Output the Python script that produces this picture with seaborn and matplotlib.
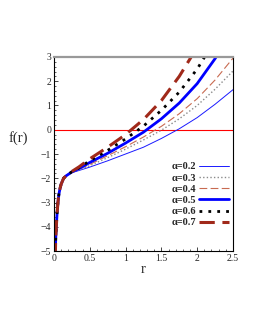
import numpy as np
import pandas as pd
import seaborn as sns
import matplotlib.pyplot as plt
from matplotlib.ticker import MultipleLocator

# --- data ---
r_near = [0.018, 0.025, 0.033, 0.045, 0.056, 0.07, 0.085, 0.1, 0.135, 0.17, 0.2]
f_near = [-5.3, -4.5, -4.0, -3.4, -3.0, -2.65, -2.42, -2.25, -2.0, -1.9, -1.84]

r_far = [0.25, 0.35, 0.5, 0.75, 1.0, 1.25, 1.5, 1.75, 2.0, 2.25, 2.5]
f_a02 = [-1.77, -1.68, -1.54, -1.28, -1.00, -0.72, -0.36, 0.04, 0.50, 1.05, 1.65]
f_a03 = [-1.76, -1.65, -1.48, -1.15, -0.80, -0.42, -0.02, 0.45, 1.00, 1.67, 2.42]
f_a04 = [-1.75, -1.62, -1.43, -1.07, -0.70, -0.30, 0.14, 0.66, 1.28, 2.05, 2.95]
f_a05 = [-1.74, -1.60, -1.35, -0.97, -0.55, -0.10, 0.45, 1.10, 1.90, 2.93, 4.10]
f_a06 = [-1.73, -1.57, -1.28, -0.85, -0.38, 0.15, 0.80, 1.55, 2.50, 3.70, 5.00]
f_a07 = [-1.72, -1.53, -1.20, -0.72, -0.20, 0.42, 1.20, 2.20, 3.40, 4.80, 6.40]

alphas = ['0.2', '0.3', '0.4', '0.5', '0.6', '0.7']
series = [f_a02, f_a03, f_a04, f_a05, f_a06, f_a07]

styles = {
    '0.2': dict(color='#1a1aff', lw=0.7, ls='-'),
    '0.3': dict(color='#8a8a8a', lw=1.0, ls=(0, (1, 1.6))),
    '0.4': dict(color='#c86a50', lw=0.8, ls=(0, (7, 3))),
    '0.5': dict(color='#0000ff', lw=2.0, ls='-'),
    '0.6': dict(color='black', lw=2.0, ls=(0, (1, 2.2))),
    '0.7': dict(color='#a0291a', lw=2.2, ls=(0, (5, 2.5))),
}

sns.set_style('ticks')
plt.rcParams['font.family'] = ['Liberation Serif', 'DejaVu Serif']

fig = plt.figure(figsize=(2.58, 3.33), dpi=100)
ax = fig.add_axes([0.209, 0.246, 0.694, 0.583])

ax.axhline(0, color='red', lw=0.8, zorder=1)

for a, f in zip(alphas, series):
    df = pd.DataFrame({'r': r_near + r_far, 'f': f_near + f})
    st = styles[a]
    sns.lineplot(data=df, x='r', y='f', ax=ax, sort=False, estimator=None,
                 color=st['color'], linewidth=st['lw'], linestyle=st['ls'],
                 label='\u03b1=' + a)

ax.set_xlim(0, 2.5)
ax.set_ylim(-5, 3)
ax.xaxis.set_major_locator(MultipleLocator(0.5))
ax.xaxis.set_minor_locator(MultipleLocator(0.1))
ax.yaxis.set_major_locator(MultipleLocator(1))
ax.yaxis.set_minor_locator(MultipleLocator(0.2))
ax.xaxis.set_major_formatter(plt.FuncFormatter(lambda v, p: '0' if v == 0 else ('%g' % v)))
ax.yaxis.set_major_formatter(plt.FuncFormatter(lambda v, p: ('\u2212%g' % -v) if v < 0 else '%g' % v))
ax.tick_params(which='both', direction='in', labelsize=7, pad=2)
ax.tick_params(which='major', length=3, width=0.6)
ax.tick_params(which='minor', length=1.5, width=0.5)

for s in ['left', 'bottom', 'right']:
    ax.spines[s].set_linewidth(0.8)
    ax.spines[s].set_color('black')
ax.spines['right'].set_visible(True)
ax.spines['top'].set_visible(True)
ax.spines['top'].set_color('#999999')
ax.spines['top'].set_linewidth(1.6)

ax.set_xlabel('r', fontsize=10.5, labelpad=0)
ax.set_ylabel('f(r)', fontsize=10.5, rotation=0, labelpad=10)
ax.yaxis.set_label_coords(-0.2, 0.545)

leg = ax.legend(loc='upper right', bbox_to_anchor=(1.01, 0.49), frameon=False,
                markerfirst=False, handlelength=2.8, handletextpad=0.3,
                labelspacing=0.18, borderaxespad=0.2,
                prop={'size': 7.5, 'weight': 'bold'})

fig.savefig('out.png', dpi=100)
